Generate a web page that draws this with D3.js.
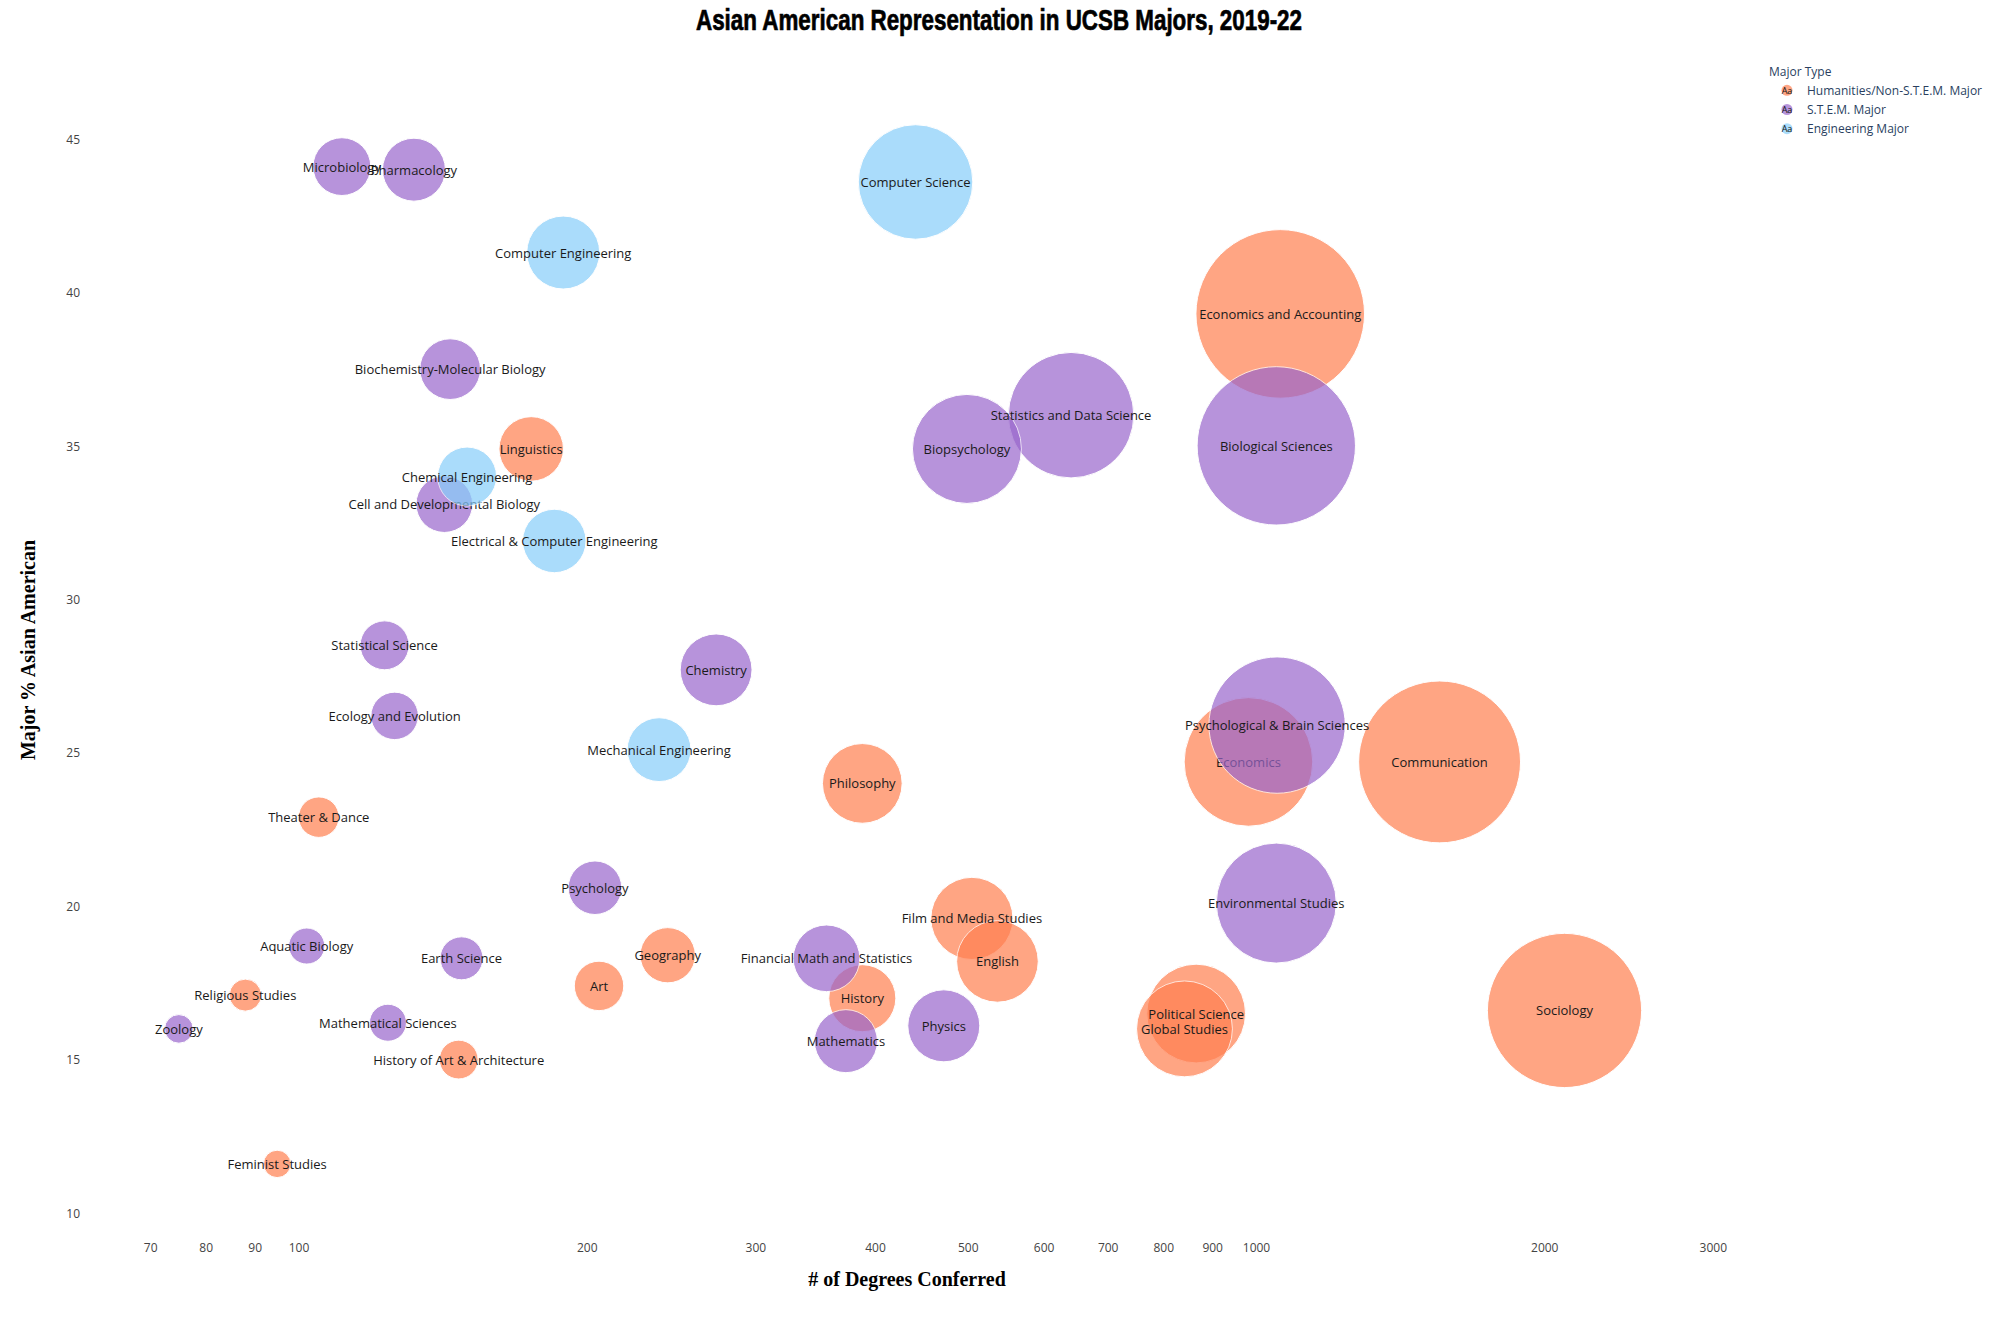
<!DOCTYPE html>
<html>
<head>
<meta charset="utf-8">
<script src="https://cdn.jsdelivr.net/npm/d3@7"></script>
<style>
  body { margin: 0; background: #fff; }
  svg { display: block; }
</style>
</head>
<body>
<div id="chart"></div>
<script>
// Major names, degrees conferred (2019-22) and % Asian American, per major type
var humNames = ["Economics and Accounting", "Communication", "Sociology", "Economics", "Political Science",
    "Global Studies", "Philosophy", "Film and Media Studies", "English", "History", "Geography", "Art",
    "Linguistics", "Theater & Dance", "Religious Studies", "History of Art & Architecture", "Feminist Studies"];
var humDegrees = [1060, 1555, 2100, 982, 866, 842, 388, 505, 537, 388, 243, 206, 175, 105, 88, 147, 95];
var humPct = [39.3, 24.7, 16.6, 24.7, 16.5, 16.0, 24.0, 19.6, 18.2, 17.0, 18.4, 17.4, 34.9, 22.9, 17.1, 15.0, 11.6];

var stemNames = ["Biological Sciences", "Psychological & Brain Sciences", "Statistics and Data Science",
    "Biopsychology", "Environmental Studies", "Chemistry", "Microbiology", "Pharmacology",
    "Biochemistry-Molecular Biology", "Cell and Developmental Biology", "Statistical Science",
    "Ecology and Evolution", "Psychology", "Aquatic Biology", "Earth Science", "Mathematical Sciences",
    "Zoology", "Financial Math and Statistics", "Mathematics", "Physics"];
var stemDegrees = [1050, 1052, 641, 499, 1050, 273, 111, 132, 144, 142, 123, 126, 204, 102, 148, 124, 75, 356, 373, 472];
var stemPct = [35.0, 25.9, 36.0, 34.9, 20.1, 27.7, 44.1, 44.0, 37.5, 33.1, 28.5, 26.2, 20.6, 18.7, 18.3, 16.2, 16.0, 18.3, 15.6, 16.1];

var engNames = ["Computer Science", "Computer Engineering", "Chemical Engineering",
    "Electrical & Computer Engineering", "Mechanical Engineering"];
var engDegrees = [441, 189, 150, 185, 238];
var engPct = [43.6, 41.3, 34.0, 31.9, 25.1];

var typeNames = ["Humanities/Non-S.T.E.M. Major", "S.T.E.M. Major", "Engineering Major"];
var typeColors = ["#ff7f50", "#9966cc", "#87cefa"];

var xTicks = [70, 80, 90, 100, 200, 300, 400, 500, 600, 700, 800, 900, 1000, 2000, 3000];
var yTicks = [10, 15, 20, 25, 30, 35, 40, 45];

var width = 2000, height = 1320;

var svg = d3.select('#chart')
    .append('svg')
    .attr('width', width)
    .attr('height', height);

// log x, linear y, bubble area proportional to number of Asian American graduates
var x = d3.scaleLog().domain([100, 1000]).range([298.5, 1256]);
var y = d3.scaleLinear().domain([10, 45]).range([1213, 139]);
var r = d3.scaleSqrt().domain([0, 400]).range([0, 82.6]);
var color = d3.scaleOrdinal().domain(typeNames).range(typeColors);

function build(names, degrees, pct) {
    return names.map((n, i) => ({ name: n, degrees: degrees[i], pct: pct[i] }));
}
var groups = [
    { type: typeNames[0], data: build(humNames, humDegrees, humPct) },
    { type: typeNames[1], data: build(stemNames, stemDegrees, stemPct) },
    { type: typeNames[2], data: build(engNames, engDegrees, engPct) }
];

// Title (heavy condensed look)
svg.append('text')
    .attr('x', 999)
    .attr('y', 20)
    .attr('text-anchor', 'middle')
    .attr('dominant-baseline', 'central')
    .attr('textLength', 606)
    .attr('lengthAdjust', 'spacingAndGlyphs')
    .style('font-family', '"Liberation Sans Narrow", "Liberation Sans", Arial, sans-serif')
    .style('font-weight', 'bold')
    .style('font-size', '29px')
    .style('fill', '#000')
    .style('stroke', '#000')
    .style('stroke-width', 0.7)
    .text('Asian American Representation in UCSB Majors, 2019-22');

// Axes (no lines, labels only)
var xAxis = svg.append('g')
    .attr('transform', 'translate(0,1240)')
    .call(d3.axisBottom(x).tickValues(xTicks).tickFormat(d3.format('d')).tickSize(0));
var yAxis = svg.append('g')
    .attr('transform', 'translate(80,0)')
    .call(d3.axisLeft(y).tickValues(yTicks).tickSize(0));
[xAxis, yAxis].forEach(function (a) {
    a.select('.domain').remove();
    a.selectAll('text')
        .style('font-family', '"Open Sans", sans-serif')
        .style('font-size', '12px')
        .style('fill', '#444');
});
yAxis.selectAll('text').attr('x', 0).attr('dy', '0.35em');

// Axis titles
svg.append('text')
    .attr('x', 907)
    .attr('y', 1279)
    .attr('text-anchor', 'middle')
    .attr('dominant-baseline', 'central')
    .style('font-family', '"Liberation Serif", "Times New Roman", serif')
    .style('font-weight', 'bold')
    .style('font-size', '20px')
    .text('# of Degrees Conferred');

svg.append('text')
    .attr('transform', 'translate(28,650) rotate(-90)')
    .attr('text-anchor', 'middle')
    .attr('dominant-baseline', 'central')
    .style('font-family', '"Liberation Serif", "Times New Roman", serif')
    .style('font-weight', 'bold')
    .style('font-size', '20px')
    .text('Major % Asian American');

// Bubbles, one layer per major type (markers then labels)
groups.forEach(function (g) {
    var layer = svg.append('g').attr('class', 'trace');
    layer.selectAll('circle')
        .data(g.data)
        .enter()
        .append('circle')
        .attr('cx', d => x(d.degrees))
        .attr('cy', d => y(d.pct))
        .attr('r', d => r(d.degrees * d.pct / 100))
        .style('fill', color(g.type))
        .style('stroke', '#fff')
        .style('stroke-width', 1)
        .style('opacity', 0.7);
    layer.selectAll('text')
        .data(g.data)
        .enter()
        .append('text')
        .attr('x', d => x(d.degrees))
        .attr('y', d => y(d.pct))
        .attr('text-anchor', 'middle')
        .attr('dominant-baseline', 'central')
        .style('font-family', '"Open Sans", sans-serif')
        .style('font-size', '13px')
        .style('fill', '#1a1a1a')
        .text(d => d.name);
});

// Legend
var legend = svg.append('g').attr('transform', 'translate(1769,71)');
legend.append('text')
    .attr('x', 0)
    .attr('y', 0)
    .attr('dominant-baseline', 'central')
    .style('font-family', '"Open Sans", sans-serif')
    .style('font-size', '12px')
    .style('fill', '#2a3f5f')
    .text('Major Type');

var item = legend.selectAll('.item')
    .data(typeNames)
    .enter()
    .append('g')
    .attr('class', 'item')
    .attr('transform', (d, i) => 'translate(18,' + (19.3 + i * 19.2) + ')');

item.append('circle')
    .attr('r', 5.5)
    .style('fill', d => color(d))
    .style('opacity', 0.7);
item.append('text')
    .attr('text-anchor', 'middle')
    .attr('dominant-baseline', 'central')
    .style('font-family', '"Open Sans", sans-serif')
    .style('font-size', '9px')
    .style('fill', '#111')
    .text('Aa');
item.append('text')
    .attr('x', 20)
    .attr('dominant-baseline', 'central')
    .style('font-family', '"Open Sans", sans-serif')
    .style('font-size', '12px')
    .style('fill', '#2a3f5f')
    .text(d => d);
</script>
</body>
</html>
